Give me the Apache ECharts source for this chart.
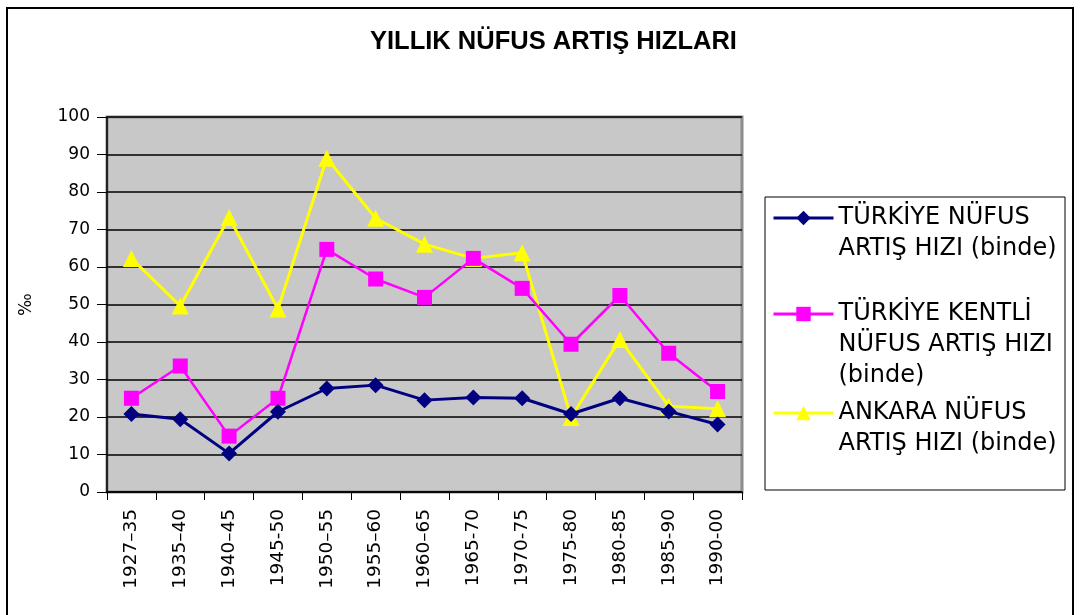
<!DOCTYPE html>
<html>
<head>
<meta charset="utf-8">
<script src="https://cdn.jsdelivr.net/npm/echarts@6/dist/echarts.min.js"></script>
<style>
html,body{margin:0;padding:0;background:#fff;}
#c{width:1081px;height:615px;}
</style>
</head>
<body>
<div id="c"></div>
<script>
const categories = ['1927–35','1935–40','1940–45','1945-50','1950–55','1955–60','1960–65','1965-70','1970-75','1975-80','1980-85','1985-90','1990-00'];
const turkiye = [20.8, 19.4, 10.3, 21.4, 27.6, 28.5, 24.5, 25.2, 25.0, 20.8, 25.0, 21.5, 18.0];
const kentli  = [25.0, 33.6, 14.9, 25.0, 64.7, 56.8, 51.9, 62.3, 54.3, 39.4, 52.4, 37.0, 26.8];
const ankara  = [62.3, 49.6, 73.2, 48.8, 89.0, 73.0, 66.1, 62.3, 63.8, 19.9, 40.7, 22.9, 22.2];
const yTicks = [0,10,20,30,40,50,60,70,80,90,100];
const names = ['TÜRKİYE NÜFUS\nARTIŞ HIZI (binde)', 'TÜRKİYE KENTLİ\nNÜFUS ARTIŞ HIZI\n(binde)', 'ANKARA NÜFUS\nARTIŞ HIZI (binde)'];

const FONT = '"DejaVu Sans", sans-serif';
const TFONT = '"Liberation Sans", Arial, sans-serif';
const chart = echarts.init(document.getElementById('c'), null, {renderer:'canvas'});
const LH = 31;
function legendFor(i, iconY){
  const lines = names[i].split('\n').length;
  const total = 2*lines - 1;
  return {
    data:[names[i]], left:772, top: iconY - total*LH/2, orient:'vertical', padding:0,
    itemWidth:60, itemHeight:18, itemGap:0,
    formatter: n => '\n'.repeat(lines-1) + n,
    lineStyle:{width:3},
    textStyle:{fontFamily:FONT, fontSize:24, color:'#000', lineHeight:LH},
    selectedMode:false
  };
}
chart.setOption({
  animation:false,
  backgroundColor:'#fff',
  title:{text:'YILLIK NÜFUS ARTIŞ HIZLARI', left:365, top:24, textStyle:{fontFamily:TFONT, fontWeight:'bold', fontSize:25.5, color:'#000'}},
  graphic:[
    {type:'rect', shape:{x:7,y:8,width:1066,height:640}, style:{fill:null, stroke:'#000', lineWidth:2}, z:-1},
    {type:'rect', shape:{x:765,y:197,width:300,height:293}, style:{fill:'#fff', stroke:'#000', lineWidth:1}, z:-1}
  ],
  legend:[legendFor(0,218), legendFor(1,314), legendFor(2,413)],
  grid:{left:107, top:117, right:339, bottom:123, show:true, backgroundColor:'#c8c8c8', borderColor:'#8c8c8c', borderWidth:3},
  xAxis:{type:'category', data:categories, boundaryGap:true,
    axisLine:{lineStyle:{color:'#000', width:1.5}},
    axisTick:{show:true, alignWithLabel:false, length:8, lineStyle:{color:'#000'}},
    axisLabel:{rotate:90, fontFamily:FONT, fontSize:18.5, color:'#000', margin:17, interval:0}},
  yAxis:{type:'value', min:0, max:100, interval:10, name:'‰', nameLocation:'middle', nameRotate:90, nameGap:72,
    nameTextStyle:{fontFamily:FONT, fontSize:17, color:'#000'},
    axisLine:{show:true, lineStyle:{color:'#000', width:1.5}},
    axisTick:{show:true, length:10, lineStyle:{color:'#000'}},
    axisLabel:{fontFamily:FONT, fontSize:17, color:'#000', margin:17},
    splitLine:{lineStyle:{color:'#000', width:1.5}}},
  series:[
    {name:names[0], type:'line', data:turkiye, symbol:'diamond', symbolSize:16, lineStyle:{color:'#000080', width:3}, itemStyle:{color:'#000080'}, z:4},
    {name:names[1], type:'line', data:kentli, symbol:'rect', symbolSize:15, lineStyle:{color:'#ff00ff', width:2.5}, itemStyle:{color:'#ff00ff'}, z:3},
    {name:names[2], type:'line', data:ankara, symbol:'triangle', symbolSize:17, lineStyle:{color:'#ffff00', width:3}, itemStyle:{color:'#ffff00'}, z:2}
  ]
});
</script>
</body>
</html>
